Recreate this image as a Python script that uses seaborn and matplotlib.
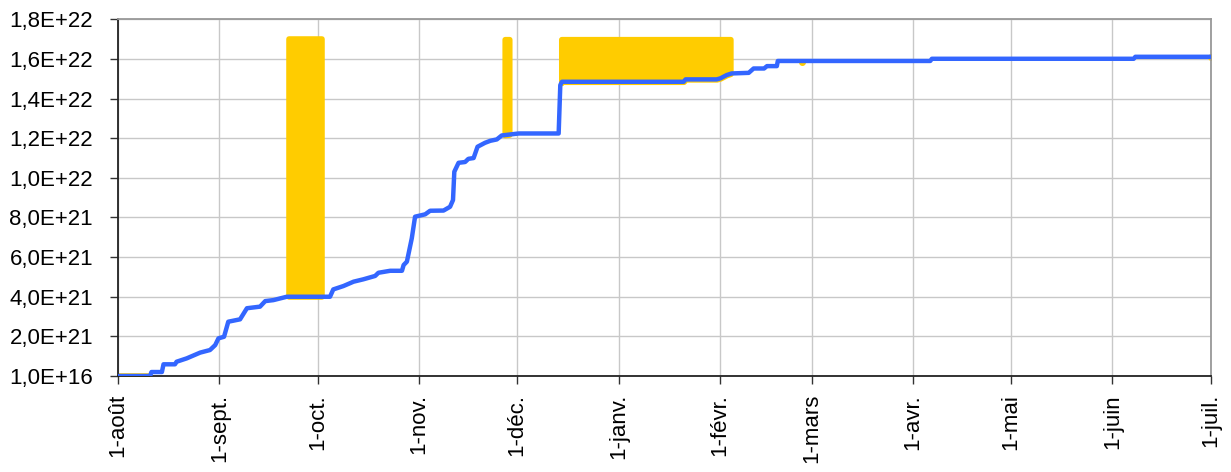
import pandas as pd
import matplotlib
matplotlib.use("Agg")
import matplotlib.pyplot as plt
import numpy as np
import seaborn as sns

# blue curve: day offset from 1-août, value
blue_days = [0, 9.8, 10.2, 13.4, 13.9, 17.4, 17.9, 21, 25.1, 28.1, 29.7, 30.7, 32.4, 33.7,
             37.3, 39.4, 43.4, 45, 47.5, 51.6, 64.8, 65.8, 68.9, 72, 75, 78.6, 79.6, 83.2,
             86.8, 87.3, 88.3, 89.8, 90.8, 93.9, 95.4, 99.5, 101.5, 102.4, 102.8, 104.1,
             106.1, 107.1, 108.7, 109.9, 112.2, 113.8, 115.8, 117.3, 122.5, 134.7, 135.2,
             135.7, 172.9, 173.5, 183, 184.1, 186.1, 187.6, 192.8, 194.3, 197.5, 198.4,
             201.4, 201.7, 248.3, 248.8, 310.5, 311, 334]
blue_vals = [0.00001, 0.00001, 0.2, 0.2, 0.59, 0.59, 0.72, 0.89, 1.18, 1.31, 1.56, 1.90, 1.98, 2.74,
             2.86, 3.42, 3.50, 3.78, 3.83, 4.00, 4.00, 4.37, 4.54, 4.76, 4.88, 5.05, 5.21, 5.31,
             5.31, 5.60, 5.77, 6.95, 8.04, 8.16, 8.34, 8.35, 8.54, 8.88, 10.31, 10.76,
             10.80, 10.96, 11.00, 11.57, 11.77, 11.87, 11.94, 12.14, 12.24, 12.24, 14.68,
             14.85, 14.85, 14.97, 14.97, 15.02, 15.19, 15.27, 15.30, 15.52, 15.52, 15.64,
             15.64, 15.90, 15.90, 16.01, 16.01, 16.11, 16.11]  # x 1e21

# yellow series: spans (days) and top of the bars
yellow_start = [0, 52.4, 118.2, 135.5]
yellow_end = [9.8, 62.5, 119.6, 187.2]
yellow_top = [0.00001, 17.0, 17.0, 17.0]
yellow_dot_days = [209, 334]
yellow_dot_vals = [15.85, 16.11]

month_labels = ['1-août', '1-sept.', '1-oct.', '1-nov.', '1-déc.', '1-janv.', '1-févr.',
                '1-mars', '1-avr.', '1-mai', '1-juin', '1-juil.']
y_ticks = [0.00001, 2, 4, 6, 8, 10, 12, 14, 16, 18]

sns.set_theme(style="whitegrid")
plt.rcParams['font.family'] = ['Liberation Sans', 'DejaVu Sans']

base = pd.Timestamp("2010-08-01")
def to_date(d):
    return base + pd.to_timedelta(np.asarray(d, dtype=float), unit="D")

bd = np.array(blue_days)
bv = np.array(blue_vals) * 1e21

fig, ax = plt.subplots(figsize=(12.31, 4.72), dpi=100)
fig.subplots_adjust(left=0.0959, right=0.9834, bottom=0.2034, top=0.959)

yellow = '#ffcc00'
blue = '#3366ff'

for s, e, top in zip(yellow_start, yellow_end, yellow_top):
    inside = bd[(bd > s) & (bd < e)]
    xs = np.concatenate([[s], inside, [e]])
    ys = np.interp(xs, bd, bv)
    ax.fill_between(to_date(xs), ys, top * 1e21, color=yellow, linewidth=4,
                    edgecolor=yellow, joinstyle='round', zorder=2)

ax.plot(to_date(yellow_dot_days), np.array(yellow_dot_vals) * 1e21, 'o', color=yellow,
        ms=4, zorder=2)

sns.lineplot(x=to_date(bd), y=bv, ax=ax, color=blue, linewidth=3.2,
             estimator=None, sort=False, zorder=3)

months = pd.date_range("2010-08-01", "2011-07-01", freq="MS")
ax.set_xlim(months[0], months[-1])
ax.set_xticks(months)
ax.set_xticklabels(month_labels, rotation=90, ha='center', va='top')

ax.set_ylim(1e16, 1.8e22)
ax.set_yticks([v * 1e21 for v in y_ticks])
ax.set_yticklabels([f"{v * 1e21:.1E}".replace('.', ',') for v in y_ticks])

ax.grid(True, color='#c8c8c8', linewidth=1)
ax.set_xlabel('')
ax.set_ylabel('')
ax.tick_params(axis='both', bottom=True, left=True, length=6, width=1, color='#333333',
               labelsize=16, labelcolor='black')
ax.tick_params(axis='x', pad=7)
ax.tick_params(axis='y', pad=12)
for side in ['left', 'bottom']:
    ax.spines[side].set_color('#222222')
    ax.spines[side].set_linewidth(1.3)
for side in ['top', 'right']:
    ax.spines[side].set_color('#999999')
    ax.spines[side].set_linewidth(1.3)

fig.savefig("out.png", dpi=100)
